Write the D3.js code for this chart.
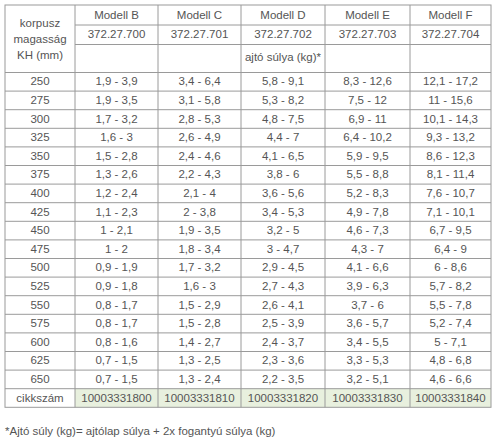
<!DOCTYPE html><html><head><meta charset="utf-8"><script src="https://cdn.jsdelivr.net/npm/d3@7"></script>
<style>body{margin:0;background:#fff}</style></head><body><svg id="c" width="500" height="441"></svg><script>
const models=["Modell B","Modell C","Modell D","Modell E","Modell F"];
const codes=["372.27.700","372.27.701","372.27.702","372.27.703","372.27.704"];
const heights=["250","275","300","325","350","375","400","425","450","475","500","525","550","575","600","625","650"];
const colB=["1,9 - 3,9","1,9 - 3,5","1,7 - 3,2","1,6 - 3","1,5 - 2,8","1,3 - 2,6","1,2 - 2,4","1,1 - 2,3","1 - 2,1","1 - 2","0,9 - 1,9","0,9 - 1,8","0,8 - 1,7","0,8 - 1,7","0,8 - 1,6","0,7 - 1,5","0,7 - 1,5"];
const colC=["3,4 - 6,4","3,1 - 5,8","2,8 - 5,3","2,6 - 4,9","2,4 - 4,6","2,2 - 4,3","2,1 - 4","2 - 3,8","1,9 - 3,5","1,8 - 3,4","1,7 - 3,2","1,6 - 3","1,5 - 2,9","1,5 - 2,8","1,4 - 2,7","1,3 - 2,5","1,3 - 2,4"];
const colD=["5,8 - 9,1","5,3 - 8,2","4,8 - 7,5","4,4 - 7","4,1 - 6,5","3,8 - 6","3,6 - 5,6","3,4 - 5,3","3,2 - 5","3 - 4,7","2,9 - 4,5","2,7 - 4,3","2,6 - 4,1","2,5 - 3,9","2,4 - 3,7","2,3 - 3,6","2,2 - 3,5"];
const colE=["8,3 - 12,6","7,5 - 12","6,9 - 11","6,4 - 10,2","5,9 - 9,5","5,5 - 8,8","5,2 - 8,3","4,9 - 7,8","4,6 - 7,3","4,3 - 7","4,1 - 6,6","3,9 - 6,3","3,7 - 6","3,6 - 5,7","3,4 - 5,5","3,3 - 5,3","3,2 - 5,1"];
const colF=["12,1 - 17,2","11 - 15,6","10,1 - 14,3","9,3 - 13,2","8,6 - 12,3","8,1 - 11,4","7,6 - 10,7","7,1 - 10,1","6,7 - 9,5","6,4 - 9","6 - 8,6","5,7 - 8,2","5,5 - 7,8","5,2 - 7,4","5 - 7,1","4,8 - 6,8","4,6 - 6,6"];
const articles=["10003331800","10003331810","10003331820","10003331830","10003331840"];
const cols=[colB,colC,colD,colE,colF];
const svg=d3.select("#c");
const xs=[5,75,158,241,325,410,491];
const line="#9a9a9a", txt="#555", font="'Liberation Sans',Arial,sans-serif";
const g=svg.append("g").attr("font-family",font).attr("font-size",11.5).attr("fill",txt);
const rowTop=72.5, rh=18.6;
const y=d3.scaleLinear().domain([0,heights.length+1]).range([rowTop,rowTop+rh*(heights.length+1)]);
const bottom=y(heights.length+1);
// green cells
articles.forEach((a,i)=>g.append("rect").attr("x",xs[i+1]).attr("y",y(heights.length)).attr("width",xs[i+2]-xs[i+1]).attr("height",rh).attr("fill","#e8f0de"));
function t(x,yy,s,anchor="middle"){g.append("text").attr("x",x).attr("y",yy).attr("text-anchor",anchor).attr("dominant-baseline","middle").text(s);}
// header
models.forEach((m,i)=>t((xs[i+1]+xs[i+2])/2,15.5,m));
codes.forEach((m,i)=>t((xs[i+1]+xs[i+2])/2,35,m));
t((xs[1]+xs[6])/2,58,"ajtó súlya (kg)*");
t(40,24,"korpusz");t(40,40,"magasság");t(40,56,"KH (mm)");
heights.forEach((h,r)=>{const cy=y(r)+rh/2+0.5;t(40,cy,h);cols.forEach((c,i)=>t((xs[i+1]+xs[i+2])/2,cy,c[r]));});
const ca=y(heights.length)+rh/2+0.5;t(40,ca,"cikkszám");articles.forEach((a,i)=>t((xs[i+1]+xs[i+2])/2,ca,a));
// lines
const L=g.append("g").attr("stroke",line).attr("stroke-width",1).attr("fill","none");
L.append("rect").attr("x",5).attr("y",5).attr("width",486).attr("height",bottom-5);
xs.slice(1,6).forEach(x=>L.append("line").attr("x1",x).attr("x2",x).attr("y1",5).attr("y2",bottom));
L.append("line").attr("x1",75).attr("x2",491).attr("y1",25).attr("y2",25);
L.append("line").attr("x1",75).attr("x2",491).attr("y1",44.5).attr("y2",44.5);
d3.range(0,heights.length+1).forEach(r=>L.append("line").attr("x1",5).attr("x2",491).attr("y1",y(r)).attr("y2",y(r)));
g.append("text").attr("x",5).attr("y",432).attr("dominant-baseline","middle").text("*Ajtó súly (kg)= ajtólap súlya + 2x fogantyú súlya (kg)");
</script></body></html>
